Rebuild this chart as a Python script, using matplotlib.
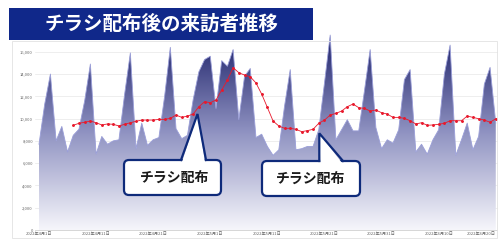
import numpy as np
import matplotlib
matplotlib.use("Agg")
import matplotlib.pyplot as plt
from matplotlib.colors import LinearSegmentedColormap
from matplotlib.patches import Polygon, Rectangle, FancyBboxPatch

plt.rcParams['font.family'] = ['Noto Sans CJK JP', 'DejaVu Sans']

# daily visitors, 2022-04-01 .. 2022-06-20
visitors = [7700, 11300, 14000, 8000, 9300, 7000, 8500, 9050, 11600, 14900,
            6800, 8400, 7700, 8000, 8100, 12200, 15900, 7300, 9600, 7600,
            8100, 8300, 12000, 16400, 9100, 8200, 8500, 11700, 14200, 15300,
            15600, 10900, 15200, 14700, 16200, 9900, 13800, 14500, 8300, 8600,
            7500, 6700, 7200, 11100, 14400, 7200, 7300, 7500, 7500, 9000,
            13200, 17500, 8100, 9000, 9900, 8900, 8900, 12500, 16200, 9200,
            7300, 8100, 7800, 9000, 13500, 14400, 7000, 7700, 6800, 8100,
            9000, 14000, 16600, 6700, 8100, 9600, 7200, 8400, 13100, 14600,
            9600]
days = np.arange(len(visitors))

# 7-day average line (starts on day 6)
avg_start = 6
avg = [9400, 9580, 9670, 9780, 9630, 9430, 9520, 9490, 9340, 9490,
       9630, 9760, 9870, 9870, 9870, 9930, 9930, 10020, 10320, 10110,
       10230, 10410, 11070, 11520, 11430, 11670, 12570, 13460, 14570, 14120,
       13910, 13760, 13200, 12200, 11000, 9780, 9340, 9130, 9130, 9040,
       8830, 8920, 9040, 9580, 9870, 10320, 10470, 10680, 11070, 11310,
       10980, 10920, 10680, 10770, 10530, 10410, 10110, 10110, 10020, 9810,
       9520, 9630, 9400, 9430, 9490, 9580, 9810, 9810, 9810, 10230,
       10110, 9990, 9870, 9670, 9990]
avg_days = np.arange(avg_start, avg_start + len(avg))

tick_days = [0, 10, 20, 30, 40, 50, 60, 70, 80]
tick_labels = ['2022年4月1日', '2022年4月11日', '2022年4月21日', '2022年5月1日',
               '2022年5月11日', '2022年5月21日', '2022年5月31日', '2022年6月10日',
               '2022年6月20日']
y_ticks = np.arange(0, 16001, 2000)

title = 'チラシ配布後の来訪者推移'
callout = 'チラシ配布'

fig = plt.figure(figsize=(4.98, 2.40), dpi=100)
ax = fig.add_axes([35/498, 10/240, 463/498, 200.5/240])

# gradient filled area
cmap = LinearSegmentedColormap.from_list('nv', ['#f6f6fb', '#9093c2', '#1e226a'])
grad = np.linspace(0, 1, 256).reshape(-1, 1)
ymax_img = 17500
im = ax.imshow(grad, extent=[days[0], days[-1], 0, ymax_img], origin='lower',
               cmap=cmap, aspect='auto', zorder=2)
verts = [(days[0], 0)] + list(zip(days, visitors)) + [(days[-1], 0)]
clip = Polygon(verts, closed=True, facecolor='none', edgecolor='none',
               transform=ax.transData)
ax.add_patch(clip)
im.set_clip_path(clip)
ax.plot(days, visitors, color='#9a9ed8', lw=0.6, zorder=3)

ax.plot(avg_days, avg, color='#e8192c', lw=0.6, marker='o', ms=1.1, zorder=4)

ax.set_xlim(-0.7, 80.39)
ax.set_ylim(0, 18000)
ax.set_yticks(y_ticks)
ax.set_yticklabels([f'{v:,}' for v in y_ticks])
ax.set_xticks(tick_days)
ax.set_xticklabels(tick_labels)
ax.get_xticklabels()[-1].set_ha('right')
ax.tick_params(length=0, labelsize=3, colors='#666666', pad=1.5)
ax.grid(axis='y', color='#e8e8e8', lw=0.5, zorder=0)
for s in ['top', 'right', 'left']:
    ax.spines[s].set_visible(False)
ax.spines['bottom'].set_color('#d0d0d0')
ax.spines['bottom'].set_linewidth(0.6)

# overlay in pixel coordinates for banner and callouts
ov = fig.add_axes([0, 0, 1, 1], zorder=5)
ov.set_xlim(0, 498)
ov.set_ylim(240, 0)
ov.axis('off')

ov.add_patch(Rectangle((12, 41), 485, 197, fill=False, ec='#e2e2e2', lw=0.6))
ov.add_patch(Rectangle((9, 8), 304, 32, fc='#10288a', ec='none'))
ov.text(162, 24.5, title, color='white', fontsize=14, fontweight='bold',
        ha='center', va='center')

navy = '#0e2a7a'
boxes = [
    ((124, 160), 97, 35, (181, 197.5, 206), 114, (175, 178)),
    ((262, 161), 98, 35, (319.3, 319.3, 343), 133.3, (311, 179)),
]
for (bx, by), bw, bh, (fl, tx, fr), ty, (cx, cy) in boxes:
    ov.add_patch(FancyBboxPatch((bx, by), bw, bh,
                                boxstyle='round,pad=0,rounding_size=5',
                                fc='white', ec=navy, lw=1.6))
    ov.add_patch(Polygon([(fl + 1, by + 2), (tx, ty), (fr - 1, by + 2)],
                         closed=True, fc='white', ec='none', zorder=3))
    ov.plot([fl, tx, fr], [by, ty, by], color=navy, lw=1.6,
            solid_joinstyle='miter', zorder=4)
    ov.text(cx, cy, callout, fontsize=10, fontweight='bold', color='#1a1a1a',
            ha='center', va='center', zorder=5)

fig.savefig('out.png', dpi=100)
